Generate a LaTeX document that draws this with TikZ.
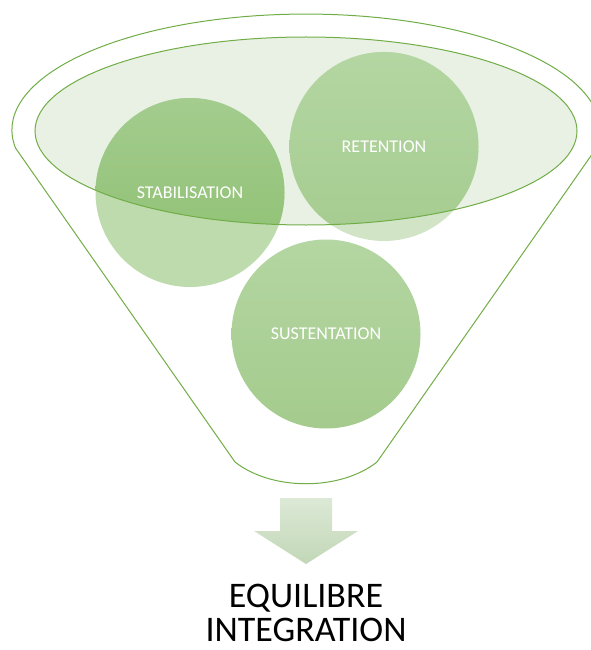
\documentclass[tikz,border=0pt]{standalone}
\usepackage{fontspec}
\setmainfont{Carlito}
\definecolor{rimgreen}{HTML}{70AD47}
\definecolor{mouthfill}{HTML}{E9F1E4}
\definecolor{stabout}{HTML}{BEDBAE}
\definecolor{stabtop}{HTML}{A3CC8E}
\definecolor{stabbot}{HTML}{8CBF6F}
\definecolor{retout}{HTML}{D1E5C6}
\definecolor{rettop}{HTML}{B4D6A2}
\definecolor{retbot}{HTML}{A5CC90}
\definecolor{susttop}{HTML}{B4D6A2}
\definecolor{sustbot}{HTML}{A4CB8D}
\definecolor{arrowtop}{HTML}{DCE9D6}
\definecolor{arrowbot}{HTML}{C2D7B7}
\begin{document}
\begin{tikzpicture}[x=1pt,y=-1pt,
    rim/.style={draw=rimgreen,line width=1pt},
    lbl/.style={text=white,font=\fontsize{18}{22}\selectfont},
    result/.style={font=\fontsize{36}{42}\selectfont,anchor=base,inner sep=1pt}]
  \useasboundingbox (0,0) rectangle (591,650);
  \coordinate (stab) at (190,192.5);
  \coordinate (ret) at (384,146.5);
  \coordinate (sust) at (326,334);
  \coordinate (mouth) at (306,131);
  \draw[rim] (15.5,148) arc[start angle=171.1,end angle=368.9,x radius=294,y radius=116]
    -- (377,462) .. controls (340,491) and (272,491) .. (235,462) -- cycle;
  \fill[mouthfill] (mouth) ellipse[x radius=271,y radius=94];
  \fill[stabout] (stab) circle[radius=94.5];
  \fill[retout] (ret) circle[radius=94.5];
  \shade[top color=susttop,bottom color=sustbot] (sust) circle[radius=94.5];
  \begin{scope}
    \clip (mouth) ellipse[x radius=271,y radius=94];
    \shade[top color=stabtop,bottom color=stabbot] (stab) circle[radius=94.5];
    \shade[top color=rettop,bottom color=retbot] (ret) circle[radius=94.5];
  \end{scope}
  \draw[rim] (mouth) ellipse[x radius=271,y radius=94];
  \node[lbl] (stablbl) at (stab) {STABILISATION};
  \node[lbl] (retlbl) at (ret) {RETENTION};
  \node[lbl] (sustlbl) at (sust) {SUSTENTATION};
  \shade[top color=arrowtop,bottom color=arrowbot] (280,498) -- (332,498) -- (332,531)
    -- (358,531) -- (306,564) -- (254,531) -- (280,531) -- cycle;
  \node[result] (equi) at (306,607) {EQUILIBRE};
  \node[result] (integ) at (306,641) {INTEGRATION};
\end{tikzpicture}
\end{document}
